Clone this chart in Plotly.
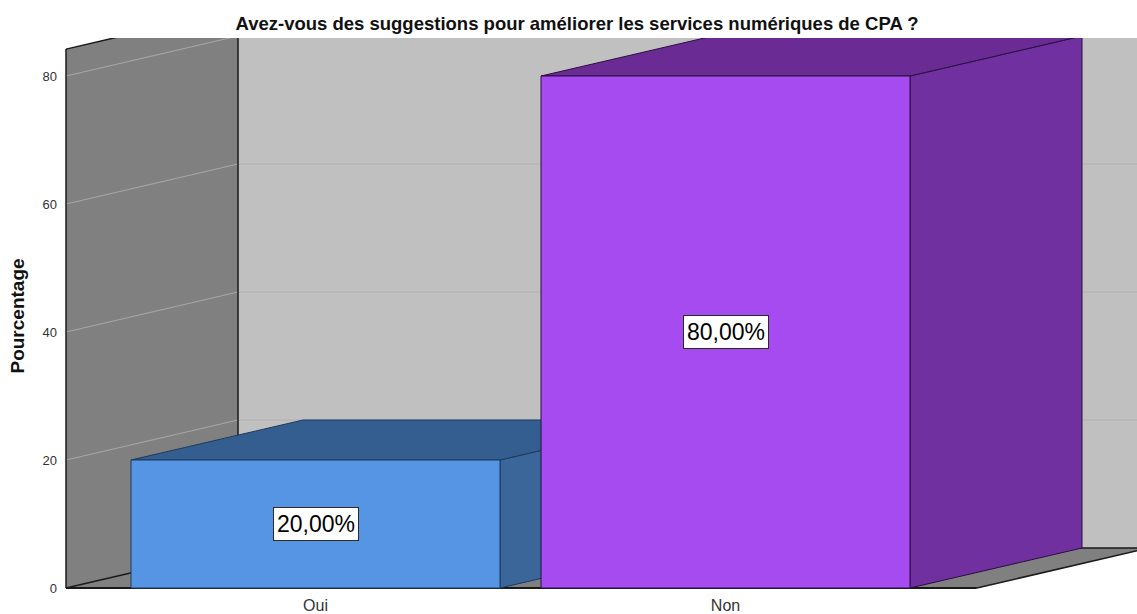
import plotly.graph_objects as go

# ---- data ----
categories = ["Oui", "Non"]
percentages = [20.0, 80.0]
value_labels = ["20,00%", "80,00%"]
y_ticks = [0, 20, 40, 60, 80]
title_text = "Avez-vous des suggestions pour améliorer les services numériques de CPA ?"
y_title = "Pourcentage"

front_colors = ["#5595e3", "#a64bf0"]
top_colors = ["#335e8f", "#6a2c94"]
side_colors = ["#3a6699", "#7030a0"]
edge_colors = ["#1d3a5e", "#2a0f40"]

# ---- 3D-ish geometry (axis units) ----
HALF = 0.45            # half bar width in category units
DX, DY = 0.4195, 6.25  # depth offset (x in category units, y in percent)
XL, XR = -0.6085, 1.613  # floor extent
YMAX = 84.2            # wall top on front plane
FAR = 3.0
TOP = 120.0

fig = go.Figure()

def poly(xs, ys, fill, line_color=None, width=1):
    fig.add_trace(go.Scatter(
        x=list(xs) + [xs[0]], y=list(ys) + [ys[0]],
        mode="lines", fill="toself", fillcolor=fill,
        line=dict(color=line_color or fill, width=width),
        hoverinfo="skip", showlegend=False))

def seg(x0, y0, x1, y1, color="#000000", width=1.5):
    fig.add_trace(go.Scatter(
        x=[x0, x1], y=[y0, y1], mode="lines",
        line=dict(color=color, width=width),
        hoverinfo="skip", showlegend=False))

# back wall
poly([XL + DX, FAR, FAR, XL + DX], [DY, DY, TOP, TOP], "#c0c0c0", width=0)
# left wall
poly([XL, XL + DX, XL + DX, XL], [0, DY, YMAX + DY, YMAX], "#808080", width=0)
# floor
poly([XL, XR, XR + DX, XL + DX], [0, 0, DY, DY], "#808080", width=0)

# grid lines
for v in y_ticks[1:]:
    seg(XL, v, XL + DX, v + DY, "#a8a8a8", 1)
    seg(XL + DX, v + DY, FAR, v + DY, "#b0b0b0", 1)

# wall / floor edges
seg(XL + DX, DY, XL + DX, TOP, "#1a1a1a", 1.5)
seg(XL, YMAX, XL + DX, YMAX + DY, "#1a1a1a", 1.5)
seg(XL, 0, XL, YMAX, "#1a1a1a", 1.5)
seg(XL, 0, XL + DX, DY, "#1a1a1a", 1.5)
seg(XL + DX, DY, FAR, DY, "#1a1a1a", 1.5)
seg(XR, 0, XR + DX, DY, "#1a1a1a", 1.5)
seg(XL, 0, XR, 0, "#1a1a1a", 2)

# bars
for i, v in enumerate(percentages):
    l, r = i - HALF, i + HALF
    poly([r, r + DX, r + DX, r], [0, DY, v + DY, v], side_colors[i], edge_colors[i], 1)
    poly([l, r, r + DX, l + DX], [v, v, v + DY, v + DY], top_colors[i], edge_colors[i], 1)
    poly([l, r, r, l], [0, 0, v, v], front_colors[i], edge_colors[i], 1)

for i, v in enumerate(percentages):
    fig.add_annotation(x=i, y=v / 2, text=value_labels[i], showarrow=False,
                       font=dict(family="Liberation Sans, Arial", size=23, color="#000000"),
                       bgcolor="#ffffff", bordercolor="#2b2b2b", borderwidth=1, borderpad=3)

# body margin is removed by the post script, so page pixels == figure pixels
W, H = 1137, 614
x_left_px, x_right_px = 62, 1137
px_per_cat, x0_px = 410.0, 315.5
fig.update_layout(
    width=W, height=H,
    margin=dict(l=x_left_px, r=0, t=38, b=20),
    paper_bgcolor="#ffffff", plot_bgcolor="#ffffff",
    hovermode=False,
    title=dict(text="<b>" + title_text + "</b>", x=577 / W, xanchor="center",
               y=1 - 24 / H, yanchor="middle",
               font=dict(family="Liberation Sans, Arial", size=18.5, color="#111111")),
    xaxis=dict(range=[(x_left_px - x0_px) / px_per_cat, (x_right_px - x0_px) / px_per_cat],
               tickvals=list(range(len(categories))), ticktext=categories,
               showgrid=False, zeroline=False, showline=False, ticks="",
               tickfont=dict(family="Liberation Sans, Arial", size=16, color="#333333")),
    yaxis=dict(range=[-0.9375, 85.9375], tickvals=y_ticks,
               showgrid=False, zeroline=False, showline=False, ticks="",
               ticklabelstandoff=4,
               tickfont=dict(family="Liberation Sans, Arial", size=13, color="#333333"),
               title=dict(text="<b>" + y_title + "</b>", standoff=12,
                          font=dict(family="Liberation Sans, Arial", size=19, color="#111111"))),
)

fig.write_html(
    "out.html",
    config={"displayModeBar": False},
    post_script="document.documentElement.style.margin='0';"
                "document.body.style.margin='0';"
                "document.documentElement.style.overflow='hidden';"
                "document.body.style.overflow='hidden';",
)
